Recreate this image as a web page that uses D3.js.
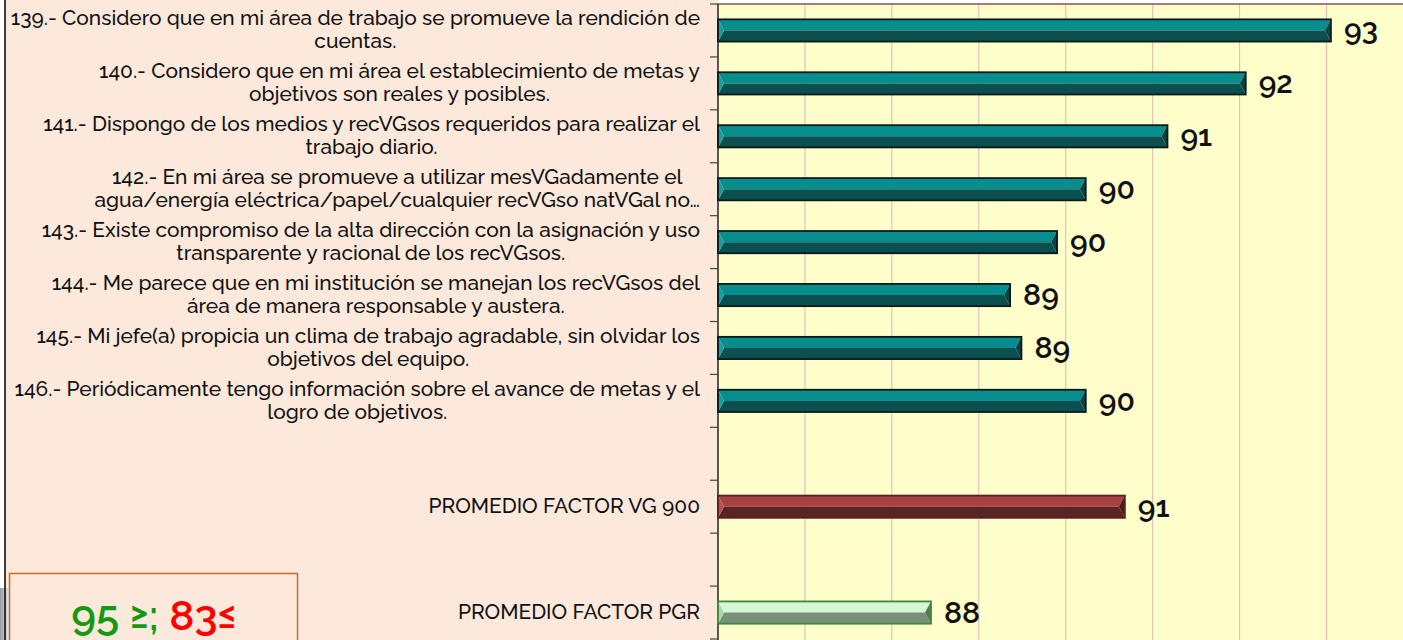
<!DOCTYPE html>
<html>
<head>
<meta charset="utf-8">
<script src="https://cdn.jsdelivr.net/npm/d3@7"></script>
<style>
  body { margin: 0; background: #fff; }
  svg { display: block; }
</style>
</head>
<body>
<script>
// questions + averages, blank slots keep the gaps between groups
var labels = [
    "139.- Considero que en mi área de trabajo se promueve la rendición de\ncuentas.",
    "140.- Considero que en mi área el establecimiento de metas y\nobjetivos son reales y posibles.",
    "141.- Dispongo de los medios y recVGsos requeridos para realizar el\ntrabajo diario.",
    "142.- En mi área se promueve a utilizar mesVGadamente el\nagua/energía eléctrica/papel/cualquier recVGso natVGal no…",
    "143.- Existe compromiso de la alta dirección con la asignación y uso\ntransparente y racional de los recVGsos.",
    "144.- Me parece que en mi institución se manejan los recVGsos del\nárea de manera responsable y austera.",
    "145.- Mi jefe(a) propicia un clima de trabajo agradable, sin olvidar los\nobjetivos del equipo.",
    "146.- Periódicamente tengo información sobre el avance de metas y el\nlogro de objetivos.",
    "",
    "PROMEDIO FACTOR VG 900",
    "",
    "PROMEDIO FACTOR PGR"
];
var values = [93.05, 92.07, 91.17, 90.23, 89.9, 89.36, 89.49, 90.23, null, 90.68, null, 88.45];
var kinds = ["q", "q", "q", "q", "q", "q", "q", "q", null, "vg", null, "pgr"];
var thresholds = [95, 83];

var width = 1403, height = 640;
var plotLeft = 718, plotTop = 4;

// face colours: top, bottom, left, right, border
var palette = {
    q:   ["#068e8e", "#0c4f4f", "#1a9c9c", "#0a4444", "#0a1a1a"],
    vg:  ["#a84242", "#582424", "#b85050", "#4a1c1c", "#5a2020"],
    pgr: ["#d6f7d6", "#7a8f7a", "#a8d8a8", "#5e745e", "#3a8a3a"]
};

var svg = d3.select("body").append("svg")
    .attr("width", width)
    .attr("height", height);

var grad = svg.append("defs").append("linearGradient")
    .attr("id", "shade").attr("x1", 0).attr("x2", 1).attr("y1", 0).attr("y2", 0);
grad.append("stop").attr("offset", "0%").attr("stop-color", "#9a9aa2");
grad.append("stop").attr("offset", "100%").attr("stop-color", "#e8e8ec");

svg.append("rect").attr("x", 5).attr("y", 0).attr("width", plotLeft - 5).attr("height", height).attr("fill", "#fde9db");
svg.append("rect").attr("x", 0).attr("y", 588).attr("width", 9).attr("height", 52).attr("fill", "url(#shade)");
svg.append("line").attr("x1", 5).attr("x2", 5).attr("y1", 0).attr("y2", height).attr("stroke", "#000").attr("stroke-width", 1.5);
svg.append("rect").attr("x", plotLeft).attr("y", plotTop).attr("width", width - plotLeft).attr("height", height - plotTop).attr("fill", "#ffffcc");

var keys = labels.map(function(d, i) { return "k" + i; });

var x = d3.scaleLinear().domain([86, 94]).range([plotLeft, 1413.5]);
var y = d3.scaleBand().domain(keys).range([plotTop, 639]).padding(0);
var barH = y.bandwidth() * 0.42;

// gridlines
svg.append("g").selectAll("line")
    .data(d3.range(87, 94))
    .enter().append("line")
    .attr("x1", function(d) { return x(d); })
    .attr("x2", function(d) { return x(d); })
    .attr("y1", plotTop).attr("y2", height)
    .attr("stroke", "#e4b4b0").attr("stroke-width", 1);

// top border + axis line
svg.append("line").attr("x1", plotLeft).attr("x2", width).attr("y1", plotTop).attr("y2", plotTop)
    .attr("stroke", "#8b5050").attr("stroke-width", 1.5);
svg.append("line").attr("x1", plotLeft).attr("x2", plotLeft).attr("y1", plotTop).attr("y2", height)
    .attr("stroke", "#222").attr("stroke-width", 1.5);

// ticks on band edges
var edges = keys.map(function(k) { return y(k); }).concat([y.range()[1]]);
svg.append("g").selectAll("line")
    .data(edges)
    .enter().append("line")
    .attr("x1", plotLeft - 8).attr("x2", plotLeft)
    .attr("y1", function(d) { return d; })
    .attr("y2", function(d) { return d; })
    .attr("stroke", "#444").attr("stroke-width", 1.2);

var rows = labels.map(function(l, i) {
    return {key: keys[i], label: l, value: values[i], kind: kinds[i]};
});

// bevelled bars
var bars = svg.append("g").selectAll("g")
    .data(rows.filter(function(d) { return d.value != null; }))
    .enter().append("g");

function bevel(d) {
    var x0 = x(86), x1 = x(d.value);
    var cy = y(d.key) + y.bandwidth() / 2;
    var y0 = cy - barH / 2, y1 = cy + barH / 2, ym = cy, b = 6;
    return {
        top:    [[x0, y0], [x1, y0], [x1 - b, ym], [x0 + b, ym]],
        bottom: [[x0, y1], [x1, y1], [x1 - b, ym], [x0 + b, ym]],
        left:   [[x0, y0], [x0 + b, ym], [x0, y1]],
        right:  [[x1, y0], [x1 - b, ym], [x1, y1]],
        box: [x0, y0, x1 - x0, barH]
    };
}
var line = d3.line();
["top", "bottom", "left", "right"].forEach(function(face, fi) {
    bars.append("path")
        .attr("d", function(d) { return line(bevel(d)[face]) + "Z"; })
        .attr("fill", function(d) { return palette[d.kind][fi]; });
});
bars.append("rect")
    .attr("x", function(d) { return bevel(d).box[0]; })
    .attr("y", function(d) { return bevel(d).box[1]; })
    .attr("width", function(d) { return bevel(d).box[2]; })
    .attr("height", function(d) { return bevel(d).box[3]; })
    .attr("fill", "none")
    .attr("stroke", function(d) { return palette[d.kind][4]; })
    .attr("stroke-width", 1.8);

// value labels
bars.append("text")
    .attr("x", function(d) { return x(d.value) + 13; })
    .attr("y", function(d) { return y(d.key) + y.bandwidth() / 2 + 10; })
    .attr("font-family", "Raleway, Lato, sans-serif")
    .attr("font-size", 30)
    .attr("font-weight", 600)
    .attr("fill", "#111")
    .text(function(d) { return Math.round(d.value); });

// category labels, lines centred on each other, block right aligned
var lab = svg.append("g").selectAll("text")
    .data(rows.filter(function(d) { return d.label !== ""; }))
    .enter().append("text")
    .attr("font-family", "Raleway, Lato, sans-serif")
    .attr("font-size", 20.9)
    .attr("font-weight", 500)
    .attr("fill", "#111");

lab.each(function(d) {
    var t = d3.select(this);
    var parts = d.label.split("\n");
    var cy = y(d.key) + y.bandwidth() / 2;
    var spans = parts.map(function(p, i) {
        return t.append("tspan")
            .attr("y", cy + (i - (parts.length - 1) / 2) * 23 + 6.5)
            .text(p);
    });
    var w = d3.max(spans, function(s) { return s.node().getComputedTextLength(); });
    var mid = 700 - w / 2;
    spans.forEach(function(s) {
        s.attr("x", mid).attr("text-anchor", "middle");
    });
});

// threshold box at bottom left
svg.append("rect").attr("x", 9.5).attr("y", 573.5).attr("width", 288).attr("height", 80)
    .attr("fill", "#fde9db").attr("stroke", "#cc6a24").attr("stroke-width", 1.5);
var tb = svg.append("text")
    .attr("x", 154).attr("y", 630)
    .attr("text-anchor", "middle")
    .attr("font-family", "Raleway, Lato, sans-serif")
    .attr("font-size", 42)
    .attr("font-weight", 600);
tb.append("tspan").attr("fill", "#139a13").text(thresholds[0] + " ≥; ");
tb.append("tspan").attr("fill", "#ff0000").text(thresholds[1] + "≤");
</script>
</body>
</html>
